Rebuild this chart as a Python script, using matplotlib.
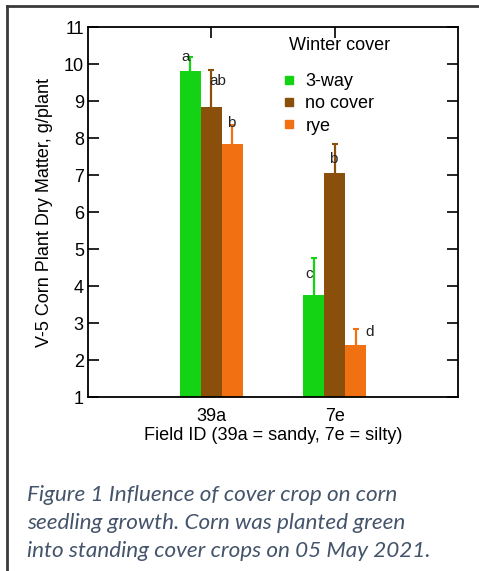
import matplotlib

matplotlib.use("Agg")
import matplotlib.pyplot as plt
from matplotlib.lines import Line2D
import numpy as np

# データ
fields = ["39a", "7e"]
covers = ["3-way", "no cover", "rye"]
means = {
    "3-way": [9.8, 3.75],
    "no cover": [8.85, 7.05],
    "rye": [7.85, 2.4],
}
errs = {
    "3-way": [0.4, 1.0],
    "no cover": [1.0, 0.8],
    "rye": [0.5, 0.45],
}
# 有意差の文字（x, y はデータ座標）
sig_labels = ["a", "ab", "b", "b", "c", "d"]
sig_x = [0.79, 1.05, 1.16, 1.99, 1.79, 2.28]
sig_y = [10.19, 9.54, 8.40, 7.43, 4.32, 2.76]

colors = {"3-way": "#14d214", "no cover": "#8b4f0c", "rye": "#f07012"}
caption = ("Figure 1 Influence of cover crop on corn\n"
           "seedling growth. Corn was planted green\n"
           "into standing cover crops on 05 May 2021.")

plt.rcParams["font.family"] = ["Liberation Sans", "DejaVu Sans"]
FS = 13

fig = plt.figure(figsize=(4.79, 5.71), dpi=100)
ax = fig.add_axes([0.1837, 0.3047, 0.7725, 0.648])

x = np.arange(1, len(fields) + 1)
w = 0.17
for k, c in enumerate(covers):
    pos = x + (k - 1) * w
    # 誤差棒は対称に描き、下半分は棒の後ろに隠す
    ax.errorbar(pos, means[c], yerr=errs[c], fmt="none", ecolor=colors[c],
                elinewidth=1.6, capsize=2.5, capthick=1.5, zorder=1)
    ax.bar(pos, means[c], width=w, bottom=0, color=colors[c], edgecolor="none", zorder=2)

for s, sx, sy in zip(sig_labels, sig_x, sig_y):
    ax.text(sx, sy, s, ha="center", va="center", fontsize=11, color="#222222", zorder=3)

ax.set_xlim(0, 3)
ax.set_ylim(1, 11)
ax.set_yticks(range(1, 12))
ax.set_xticks(x)
ax.set_xticklabels(fields)
ax.tick_params(axis="y", direction="in", length=8, width=1.2, labelsize=FS,
               right=True, pad=3)
ax.tick_params(axis="x", length=0, labelsize=FS, pad=8)
# 上辺の内向き目盛り
sec = ax.secondary_xaxis("top")
sec.set_xticks(x)
sec.tick_params(direction="in", length=8, width=1.2, labeltop=False)
sec.spines["top"].set_visible(False)
for sp in ax.spines.values():
    sp.set_linewidth(1.3)

ax.set_ylabel("V-5 Corn Plant Dry Matter, g/plant", fontsize=FS)
ax.yaxis.set_label_coords(-0.095, 0.5)
ax.set_xlabel("Field ID (39a = sandy, 7e = silty)", fontsize=FS, labelpad=1)

ax.text(0.543, 0.951, "Winter cover", transform=ax.transAxes, ha="left", va="center",
        fontsize=FS)
handles = [Line2D([], [], marker="s", ls="", color=colors[c], markersize=6) for c in covers]
ax.legend(handles, covers, frameon=False, loc="upper left", bbox_to_anchor=(0.524, 0.876),
          fontsize=FS, handlelength=0.8, handletextpad=0.5, labelspacing=0.3,
          borderpad=0, borderaxespad=0)

fig.text(0.056, 0.0845, caption, fontsize=16.2, style="italic", color="#44546a",
         family=["Lato", "DejaVu Sans"], va="center", linespacing=1.5)

# 外枠（上辺と左辺）
fig.add_artist(Line2D([7 / 479, 7 / 479], [0, 1 - 6 / 571], color="#3a3a3a", lw=2))
fig.add_artist(Line2D([7 / 479, 1], [1 - 6 / 571, 1 - 6 / 571], color="#3a3a3a", lw=2))

fig.savefig("out.png", dpi=100)
